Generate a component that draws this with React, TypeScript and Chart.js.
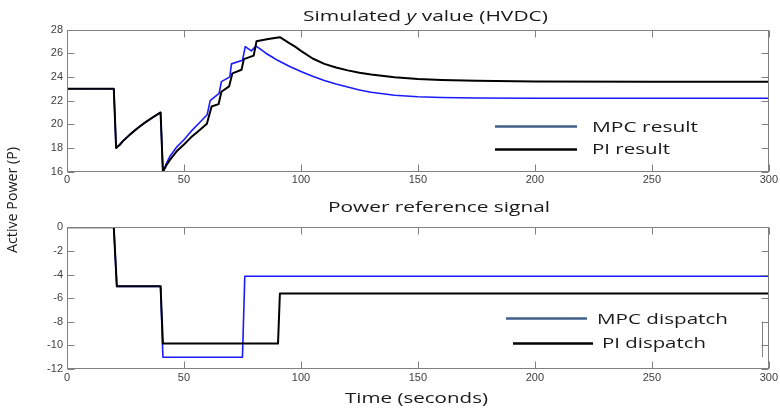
import React, { useEffect, useRef } from "react";
import { Chart, registerables } from "chart.js";

Chart.register(...registerables);

const W = 780;
const H = 409;

// ---------- data ----------
const xTickValues = [0, 50, 100, 150, 200, 250, 300];
const topYTickValues = [16, 18, 20, 22, 24, 26, 28];
const bottomYTickValues = [-12, -10, -8, -6, -4, -2, 0];

const topLabels = ["MPC result", "PI result"];
const bottomLabels = ["MPC dispatch", "PI dispatch"];

const mpcResultTime = [0, 20, 21, 24, 27, 30, 33, 36, 40, 41, 42.5, 44, 47, 50, 53, 56, 59.9, 61.2, 65, 66, 69.6, 70.3, 75, 76.2, 78.8, 80.8, 83, 85, 87.5, 90, 95, 100, 105, 110, 115, 120, 125, 130, 140, 150, 160, 175, 200, 250, 300];
const mpcResult = [23, 23, 18, 18.6, 19.15, 19.65, 20.1, 20.5, 21.0, 16, 16.7, 17.3, 18.1, 18.7, 19.4, 20.0, 20.8, 22.0, 22.6, 23.6, 24.0, 25.1, 25.4, 26.55, 26.2, 26.6, 26.3, 26.0, 25.7, 25.4, 24.9, 24.45, 24.05, 23.7, 23.4, 23.15, 22.9, 22.7, 22.45, 22.33, 22.26, 22.22, 22.2, 22.2, 22.2];

const piResultTime = [0, 20, 21, 22.5, 24, 27, 30, 33, 36, 40, 41, 42.5, 44, 47, 50, 53, 56, 59.8, 61.8, 64.8, 66, 69.3, 70.7, 74.6, 75.6, 79.8, 81, 86, 91, 93, 95, 97.5, 100, 105, 110, 115, 120, 125, 130, 140, 150, 160, 175, 200, 250, 300];
const piResult = [23, 23, 18, 18.25, 18.6, 19.15, 19.65, 20.1, 20.5, 21.0, 16, 16.55, 17.0, 17.75, 18.3, 18.9, 19.4, 20.05, 21.5, 21.7, 22.75, 23.2, 24.3, 24.6, 25.5, 25.8, 27.0, 27.2, 27.35, 27.1, 26.85, 26.55, 26.2, 25.55, 25.1, 24.8, 24.55, 24.35, 24.2, 23.97, 23.83, 23.74, 23.67, 23.62, 23.6, 23.6];

const mpcDispatchTime = [0, 20, 21.3, 40, 41, 75, 76, 300];
const mpcDispatch = [0, 0, -5, -5, -11, -11, -4.15, -4.15];

const piDispatchTime = [0, 20, 21.3, 40, 41, 90.2, 91, 300];
const piDispatch = [0, 0, -5, -5, -9.85, -9.85, -5.6, -5.6];

// ---------- styles ----------
const TEXT_FONT = '"Open Sans", "DejaVu Sans", sans-serif';
const TICK_FONT = '"Liberation Sans Narrow", "Arial Narrow", "Liberation Sans", sans-serif';
const TEXT_COLOR = "#1a1a1a";
const FRAME_COLOR = "#808080";
const BLUE = "#1a1aff";
const BLACK = "#000000";
const LEGEND_BLUE = "#41618a";

type Part = { text: string; style?: string };

function drawStretched(ctx: CanvasRenderingContext2D, parts: Part[], size: number, x: number, y: number, width: number, rotate = false) {
  ctx.save();
  ctx.fillStyle = TEXT_COLOR;
  ctx.textBaseline = "alphabetic";
  ctx.textAlign = "left";
  const fonts = parts.map((p) => `${p.style ? p.style + " " : ""}${size}px ${TEXT_FONT}`);
  let total = 0;
  parts.forEach((p, i) => {
    ctx.font = fonts[i];
    total += ctx.measureText(p.text).width;
  });
  ctx.translate(x, y);
  if (rotate) ctx.rotate(-Math.PI / 2);
  ctx.scale(width / total, 1);
  let cx = 0;
  parts.forEach((p, i) => {
    ctx.font = fonts[i];
    ctx.fillText(p.text, cx, 0);
    cx += ctx.measureText(p.text).width;
  });
  ctx.restore();
}

type LegendPos = { x1: number; x2: number; y: number; tx: number; ty: number; tw: number; color: string; lw: number };
type TextItem = { parts: Part[]; size: number; x: number; y: number; w: number; rotate?: boolean };

function makeDecor(legend: LegendPos[], texts: TextItem[], extraLines: number[][]) {
  return {
    id: "decor",
    afterDatasetsDraw(chart: any) {
      const ctx: CanvasRenderingContext2D = chart.ctx;
      const a = chart.chartArea;
      const xs = chart.scales.x;
      const ys = chart.scales.y;
      ctx.save();
      ctx.strokeStyle = FRAME_COLOR;
      ctx.lineWidth = 1;
      const L = Math.round(a.left) + 0.5;
      const R = Math.round(a.right) - 0.5;
      const T = Math.round(a.top) + 0.5;
      const B = Math.round(a.bottom) - 0.5;
      ctx.strokeRect(L, T, R - L, B - T);
      const tl = 7;
      ctx.beginPath();
      xs.ticks.forEach((t: any) => {
        const p = Math.round(xs.getPixelForValue(t.value)) + 0.5;
        ctx.moveTo(p, B);
        ctx.lineTo(p, B - tl);
        ctx.moveTo(p, T);
        ctx.lineTo(p, T + tl);
      });
      ys.ticks.forEach((t: any) => {
        const p = Math.round(ys.getPixelForValue(t.value)) + 0.5;
        ctx.moveTo(L, p);
        ctx.lineTo(L + tl, p);
        ctx.moveTo(R, p);
        ctx.lineTo(R - tl, p);
      });
      extraLines.forEach(([x1, y1, x2, y2]) => {
        ctx.moveTo(x1, y1);
        ctx.lineTo(x2, y2);
      });
      ctx.stroke();

      chart.data.datasets.forEach((ds: any, i: number) => {
        const lg = legend[i];
        if (!lg) return;
        ctx.strokeStyle = lg.color;
        ctx.lineWidth = lg.lw;
        ctx.beginPath();
        ctx.moveTo(lg.x1, lg.y);
        ctx.lineTo(lg.x2, lg.y);
        ctx.stroke();
        drawStretched(ctx, [{ text: ds.label }], 14, lg.tx, lg.ty, lg.tw);
      });

      texts.forEach((t) => drawStretched(ctx, t.parts, t.size, t.x, t.y, t.w, !!t.rotate));
      ctx.restore();
    },
  };
}

function makeConfig(opts: {
  series: { label: string; t: number[]; v: number[]; color: string; width: number; order: number }[];
  yMin: number;
  yMax: number;
  yTicks: number[];
  padTop: number;
  padBottom: number;
  xAxisHeight: number;
  decor: any;
}) {
  return {
    type: "line" as const,
    data: {
      datasets: opts.series.map((s) => ({
        label: s.label,
        data: s.t.map((t, i) => ({ x: t, y: s.v[i] })),
        borderColor: s.color,
        backgroundColor: s.color,
        borderWidth: s.width,
        borderJoinStyle: "round" as const,
        pointRadius: 0,
        tension: 0,
        order: s.order,
        fill: false,
      })),
    },
    options: {
      responsive: false,
      maintainAspectRatio: false,
      animation: false as const,
      events: [],
      layout: { padding: { left: 0, right: 9, top: opts.padTop, bottom: opts.padBottom } },
      plugins: { legend: { display: false }, tooltip: { enabled: false }, title: { display: false } },
      scales: {
        x: {
          type: "linear" as const,
          min: 0,
          max: 300,
          afterBuildTicks: (s: any) => {
            s.ticks = xTickValues.map((v) => ({ value: v }));
          },
          afterFit: (s: any) => {
            s.height = opts.xAxisHeight;
          },
          grid: { display: false, drawTicks: false },
          border: { display: false },
          ticks: { autoSkip: false, maxRotation: 0, padding: 2, color: "#404040", font: { family: TICK_FONT, size: 11 } },
        },
        y: {
          type: "linear" as const,
          min: opts.yMin,
          max: opts.yMax,
          afterBuildTicks: (s: any) => {
            s.ticks = opts.yTicks.map((v) => ({ value: v }));
          },
          afterFit: (s: any) => {
            s.width = 67;
          },
          grid: { display: false, drawTicks: false },
          border: { display: false },
          ticks: { autoSkip: false, padding: 4, color: "#404040", font: { family: TICK_FONT, size: 11 } },
        },
      },
    },
    plugins: [opts.decor],
  };
}

export default function App() {
  const topRef = useRef<HTMLCanvasElement>(null);
  const botRef = useRef<HTMLCanvasElement>(null);

  useEffect(() => {
    const topDecor = makeDecor(
      [
        { x1: 495, x2: 577, y: 126.5, tx: 592, ty: 131.5, tw: 106, color: LEGEND_BLUE, lw: 2.5 },
        { x1: 495, x2: 577, y: 149.5, tx: 592, ty: 153.5, tw: 78, color: BLACK, lw: 2.5 },
      ],
      [
        {
          parts: [{ text: "Simulated " }, { text: "y", style: "italic" }, { text: " value (HVDC)" }],
          size: 15,
          x: 303,
          y: 20.5,
          w: 245,
        },
      ],
      []
    );
    const botDecor = makeDecor(
      [
        { x1: 506, x2: 587, y: 318.5, tx: 597, ty: 323.5, tw: 131, color: LEGEND_BLUE, lw: 2.5 },
        { x1: 513, x2: 593, y: 343.5, tx: 602, ty: 348.3, tw: 104, color: BLACK, lw: 2.5 },
      ],
      [
        { parts: [{ text: "Power reference signal" }], size: 15, x: 328, y: 212.3, w: 222 },
        { parts: [{ text: "Time (seconds)" }], size: 15, x: 345, y: 402.7, w: 143 },
        { parts: [{ text: "Active Power (P)" }], size: 14, x: 16.5, y: 253, w: 106, rotate: true },
      ],
      [[762.5, 321.7, 762.5, 357.3]]
    );

    const top = new Chart(
      topRef.current as HTMLCanvasElement,
      makeConfig({
        series: [
          { label: topLabels[0], t: mpcResultTime, v: mpcResult, color: BLUE, width: 1.6, order: 1 },
          { label: topLabels[1], t: piResultTime, v: piResult, color: BLACK, width: 2, order: 0 },
        ],
        yMin: 16,
        yMax: 28,
        yTicks: topYTickValues,
        padTop: 29.5,
        padBottom: H - 171.7 - 28,
        xAxisHeight: 28,
        decor: topDecor,
      }) as any
    );
    const bot = new Chart(
      botRef.current as HTMLCanvasElement,
      makeConfig({
        series: [
          { label: bottomLabels[0], t: mpcDispatchTime, v: mpcDispatch, color: BLUE, width: 1.6, order: 1 },
          { label: bottomLabels[1], t: piDispatchTime, v: piDispatch, color: BLACK, width: 2, order: 0 },
        ],
        yMin: -12,
        yMax: 0,
        yTicks: bottomYTickValues,
        padTop: 227.3,
        padBottom: 0,
        xAxisHeight: H - 369,
        decor: botDecor,
      }) as any
    );
    return () => {
      top.destroy();
      bot.destroy();
    };
  }, []);

  const canvasStyle: React.CSSProperties = { position: "absolute", left: 0, top: 0, width: W, height: H };
  return (
    <div style={{ position: "absolute", left: 0, top: 0, width: W, height: H, background: "#ffffff" }}>
      <canvas ref={topRef} width={W} height={H} style={canvasStyle} />
      <canvas ref={botRef} width={W} height={H} style={canvasStyle} />
    </div>
  );
}
